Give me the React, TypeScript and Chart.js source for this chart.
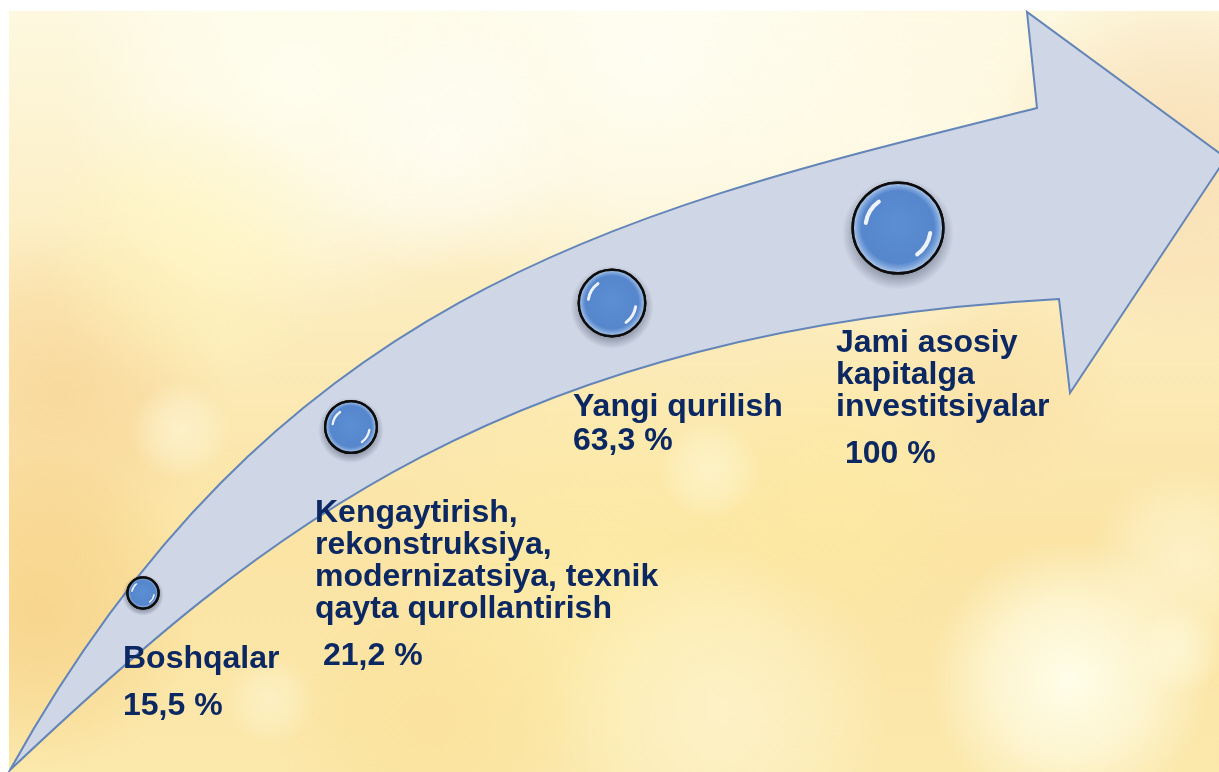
import React, { useEffect, useRef } from "react";
import { Chart, registerables } from "chart.js";
Chart.register(...registerables);

// ---- data ----
const categories = [
  "Boshqalar",
  "Kengaytirish, rekonstruksiya, modernizatsiya, texnik qayta qurollantirish",
  "Yangi qurilish",
  "Jami asosiy kapitalga investitsiyalar",
];
const values = [15.5, 21.2, 63.3, 100];
const valueLabels = ["15,5 %", "21,2 %", "63,3 %", "100 %"];
const labelLines = [
  ["Boshqalar"],
  ["Kengaytirish,", "rekonstruksiya,", "modernizatsiya, texnik", "qayta qurollantirish"],
  ["Yangi qurilish"],
  ["Jami asosiy", "kapitalga", "investitsiyalar"],
];

// ---- layout (canvas units) ----
const bubbleX = [143, 351, 612, 898];
const bubbleY = [593, 427, 303, 228];
const bubbleR = [15.5, 25.8, 33.2, 45.3];
const labelX = [123, 315, 573, 836];
const labelY = [668, 522, 416, 352];
const valueX = [123, 323, 573, 845];
const valueY = [715, 665, 450, 463];
const lineGap = 32;

// cubic bezier control points for the arrow body edges
const upperEdge = [[10, 770], [280, 284], [637, 208], [1037, 108]];
const arrowHead = [[1037, 108], [1027, 12], [1226, 158], [1070, 393], [1059, 299]];
const lowerEdge = [[1059, 299], [505, 330], [262, 532], [10, 770]];

const blobs: [number, number, number, string][] = [
  [300, 80, 240, "rgba(255,255,242,0.85)"],
  [650, 60, 270, "rgba(255,255,246,0.85)"],
  [900, 140, 210, "rgba(255,252,236,0.75)"],
  [1180, 160, 190, "rgba(246,212,168,0.6)"],
  [60, 390, 170, "rgba(246,204,138,0.55)"],
  [190, 250, 150, "rgba(255,246,190,0.6)"],
  [40, 610, 160, "rgba(244,198,118,0.5)"],
  [1070, 680, 140, "rgba(255,255,236,0.95)"],
  [1185, 560, 95, "rgba(255,250,222,0.6)"],
  [600, 570, 210, "rgba(255,240,168,0.5)"],
  [720, 710, 170, "rgba(255,250,222,0.55)"],
  [430, 730, 150, "rgba(250,222,146,0.5)"],
  [830, 490, 150, "rgba(255,236,160,0.5)"],
  [450, 150, 130, "rgba(255,255,250,0.6)"],
  [1000, 380, 120, "rgba(250,220,160,0.45)"],
  [180, 430, 50, "rgba(255,255,232,0.5)"],
  [710, 470, 50, "rgba(255,255,232,0.45)"],
  [1180, 650, 45, "rgba(255,255,232,0.5)"],
  [270, 700, 45, "rgba(255,250,225,0.45)"],
];

const infographic = {
  id: "infographic",
  beforeDraw(chart: any) {
    const { ctx, width, height } = chart;
    ctx.save();
    ctx.fillStyle = "#ffffff";
    ctx.fillRect(0, 0, width, height);
    ctx.beginPath();
    ctx.rect(9, 11, width - 9, height - 11);
    ctx.clip();
    const g = ctx.createLinearGradient(0, 11, 0, height);
    g.addColorStop(0, "#fdf8df");
    g.addColorStop(0.35, "#fcedc0");
    g.addColorStop(0.7, "#fbe4a4");
    g.addColorStop(1, "#fbe8ab");
    ctx.fillStyle = g;
    ctx.fillRect(0, 0, width, height);
    for (const [x, y, r, c] of blobs) {
      const rg = ctx.createRadialGradient(x, y, 0, x, y, r);
      rg.addColorStop(0, c);
      rg.addColorStop(0.55, c.replace(/[\d.]+\)$/, (m: string) => (parseFloat(m) * 0.6).toFixed(2) + ")"));
      rg.addColorStop(1, c.replace(/[\d.]+\)$/, "0)"));
      ctx.fillStyle = rg;
      ctx.fillRect(x - r, y - r, 2 * r, 2 * r);
    }
    ctx.restore();
  },
  beforeDatasetsDraw(chart: any) {
    const { ctx } = chart;
    const xs = chart.scales.x, ys = chart.scales.y;
    const P = (pts: number[][]) => pts.map((p) => [xs.getPixelForValue(p[0]), ys.getPixelForValue(p[1])]);
    const up = P(upperEdge), head = P(arrowHead), low = P(lowerEdge);
    ctx.save();
    ctx.beginPath();
    ctx.moveTo(up[0][0], up[0][1]);
    ctx.bezierCurveTo(up[1][0], up[1][1], up[2][0], up[2][1], up[3][0], up[3][1]);
    for (let i = 1; i < head.length; i++) ctx.lineTo(head[i][0], head[i][1]);
    ctx.bezierCurveTo(low[1][0], low[1][1], low[2][0], low[2][1], low[3][0], low[3][1]);
    ctx.closePath();
    ctx.fillStyle = "#cfd6e6";
    ctx.fill();
    ctx.lineWidth = 2;
    ctx.lineJoin = "miter";
    ctx.strokeStyle = "#6385b8";
    ctx.stroke();
    // bubble shadows
    const meta = chart.getDatasetMeta(0);
    meta.data.forEach((el: any) => {
      const r = el.options.radius + 2;
      const sg = ctx.createRadialGradient(el.x, el.y + r * 0.12, r * 0.8, el.x, el.y + r * 0.12, r * 1.18);
      sg.addColorStop(0, "rgba(40,50,70,0.45)");
      sg.addColorStop(1, "rgba(40,50,70,0)");
      ctx.fillStyle = sg;
      ctx.beginPath();
      ctx.arc(el.x, el.y + r * 0.12, r * 1.2, 0, Math.PI * 2);
      ctx.fill();
    });
    ctx.restore();
  },
  afterDatasetsDraw(chart: any) {
    const { ctx } = chart;
    const meta = chart.getDatasetMeta(0);
    ctx.save();
    meta.data.forEach((el: any) => {
      const r = el.options.radius;
      const x = el.x, y = el.y;
      const bg = ctx.createRadialGradient(x, y - r * 0.1, 0, x, y, r);
      bg.addColorStop(0, "#5b8fd3");
      bg.addColorStop(0.8, "#5686cc");
      bg.addColorStop(0.9, "#7fa6dc");
      bg.addColorStop(1, "#b7cdeb");
      ctx.fillStyle = bg;
      ctx.beginPath();
      ctx.arc(x, y, r - 0.5, 0, Math.PI * 2);
      ctx.fill();
      ctx.strokeStyle = "rgba(255,255,255,0.9)";
      ctx.lineCap = "round";
      ctx.lineWidth = Math.max(1.5, r * 0.09);
      ctx.beginPath();
      ctx.arc(x, y, r * 0.72, Math.PI * 1.05, Math.PI * 1.3);
      ctx.stroke();
      ctx.beginPath();
      ctx.arc(x, y, r * 0.72, Math.PI * 0.05, Math.PI * 0.3);
      ctx.stroke();
      ctx.strokeStyle = "#0d0d0d";
      ctx.lineWidth = el.options.borderWidth;
      ctx.beginPath();
      ctx.arc(x, y, r, 0, Math.PI * 2);
      ctx.stroke();
    });
    const xs = chart.scales.x, ys = chart.scales.y;
    ctx.fillStyle = "#0c2862";
    ctx.font = "bold 32px 'Liberation Sans', Arial, sans-serif";
    ctx.textBaseline = "alphabetic";
    ctx.textAlign = "left";
    labelLines.forEach((lines, i) => {
      lines.forEach((t, j) => {
        ctx.fillText(t, xs.getPixelForValue(labelX[i]), ys.getPixelForValue(labelY[i] + j * lineGap));
      });
      ctx.fillText(valueLabels[i], xs.getPixelForValue(valueX[i]), ys.getPixelForValue(valueY[i]));
    });
    ctx.restore();
  },
};

export default function App() {
  const ref = useRef<HTMLCanvasElement | null>(null);
  useEffect(() => {
    if (!ref.current) return;
    const chart = new Chart(ref.current, {
      type: "bubble",
      data: {
        labels: categories,
        datasets: [
          {
            label: "Investitsiyalar",
            data: values.map((v, i) => ({ x: bubbleX[i], y: bubbleY[i], r: bubbleR[i], v })),
            backgroundColor: "#5686cc",
            borderColor: "#0d0d0d",
            borderWidth: 2.5,
            clip: false as any,
          },
        ],
      },
      options: {
        animation: false,
        responsive: false,
        devicePixelRatio: 1,
        layout: { padding: 0, autoPadding: false } as any,
        events: [],
        scales: {
          x: { type: "linear", min: 0, max: 1219, display: false },
          y: { type: "linear", min: 0, max: 772, reverse: true, display: false },
        },
        plugins: { legend: { display: false }, tooltip: { enabled: false } },
      },
      plugins: [infographic],
    });
    return () => chart.destroy();
  }, []);
  return (
    <div style={{ position: "fixed", left: 0, top: 0, width: 1219, height: 772, overflow: "hidden" }}>
      <canvas ref={ref} width={1219} height={772} style={{ display: "block", width: 1219, height: 772 }} />
    </div>
  );
}
